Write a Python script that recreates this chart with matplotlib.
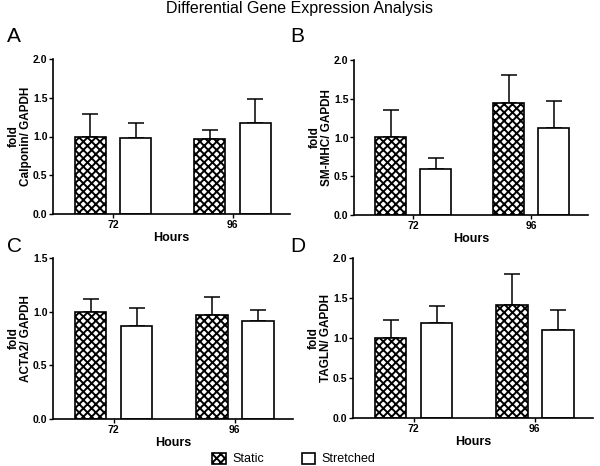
import matplotlib
matplotlib.use("Agg")
import matplotlib.pyplot as plt
import numpy as np

plt.rcParams['font.family'] = ['Liberation Sans', 'DejaVu Sans']
plt.rcParams['hatch.linewidth'] = 1.4

hours = ["72", "96"]
series = ["Static", "Stretched"]

panel_letters = ["A", "B", "C", "D"]
ylabels = ["fold\nCalponin/ GAPDH", "fold\nSM-MHC/ GAPDH",
           "fold\nACTA2/ GAPDH", "fold\nTAGLN/ GAPDH"]
ymax = [2.0, 2.0, 1.5, 2.0]
yticks_list = [[0.0, 0.5, 1.0, 1.5, 2.0], [0.0, 0.5, 1.0, 1.5, 2.0],
               [0.0, 0.5, 1.0, 1.5], [0.0, 0.5, 1.0, 1.5, 2.0]]

static_mean = [[1.00, 0.97], [1.00, 1.44], [1.00, 0.97], [1.00, 1.41]]
static_err = [[0.29, 0.11], [0.35, 0.37], [0.12, 0.17], [0.23, 0.39]]
stretched_mean = [[0.98, 1.18], [0.59, 1.12], [0.87, 0.91], [1.19, 1.10]]
stretched_err = [[0.20, 0.30], [0.14, 0.35], [0.16, 0.11], [0.21, 0.25]]

fig = plt.figure(figsize=(6.0, 4.66), dpi=100)

positions = [
    [53/600, 1-214/466, (290-53)/600, (214-59)/466],
    [354/600, 1-215/466, (588-354)/600, (215-60)/466],
    [53/600, 1-419/466, (293-53)/600, (419-258)/466],
    [353/600, 1-418/466, (593-353)/600, (418-258)/466],
]
letter_pos = [(7/600, 1-37/466), (290/600, 1-37/466),
              (7/600, 1-246/466), (290/600, 1-246/466)]

x = np.arange(len(hours))
w = 0.26
off = 0.19

handles = None
for i in range(4):
    ax = fig.add_axes(positions[i])
    b1 = ax.bar(x - off, static_mean[i], w, facecolor='white', edgecolor='black',
                hatch='xxxx', linewidth=1.2, zorder=2, label=series[0])
    b2 = ax.bar(x + off, stretched_mean[i], w, facecolor='white', edgecolor='black',
                linewidth=1.2, zorder=2, label=series[1])
    ax.errorbar(x - off, static_mean[i], yerr=[np.zeros(2), static_err[i]],
                fmt='none', ecolor='black', elinewidth=1.1, capsize=5.5, capthick=1.1, zorder=1)
    ax.errorbar(x + off, stretched_mean[i], yerr=[np.zeros(2), stretched_err[i]],
                fmt='none', ecolor='black', elinewidth=1.1, capsize=5.5, capthick=1.1, zorder=1)
    ax.set_xlim(-0.5, 1.48)
    ax.set_ylim(0, ymax[i])
    ax.set_yticks(yticks_list[i])
    ax.set_yticklabels([f"{t:.1f}" for t in yticks_list[i]], fontsize=7.5, fontweight='bold')
    ax.set_xticks(x)
    ax.set_xticklabels(hours, fontsize=7.5, fontweight='bold')
    ax.spines['top'].set_visible(False)
    ax.spines['right'].set_visible(False)
    ax.spines['left'].set_linewidth(1.2)
    ax.spines['bottom'].set_linewidth(1.2)
    ax.tick_params(axis='y', length=3, width=1, pad=1)
    ax.tick_params(axis='x', length=3, width=1, pad=1)
    ax.set_ylabel(ylabels[i], fontsize=8.5, fontweight='bold', labelpad=1, linespacing=1.0)
    ax.set_xlabel("Hours", fontsize=9, fontweight='bold', labelpad=2)
    fig.text(letter_pos[i][0], letter_pos[i][1], panel_letters[i], fontsize=15,
             va='center', ha='left')
    handles = [b1, b2]

fig.text(0.5, 1-9/466, "Differential Gene Expression Analysis", fontsize=11.5,
         ha='center', va='center')

fig.legend(handles, series, loc='center', bbox_to_anchor=(294/600, 1-459/466),
           ncol=2, frameon=False, fontsize=9, handlelength=1.1, handleheight=1.0,
           columnspacing=3.0, handletextpad=0.5)

fig.savefig("out.png", dpi=100)
